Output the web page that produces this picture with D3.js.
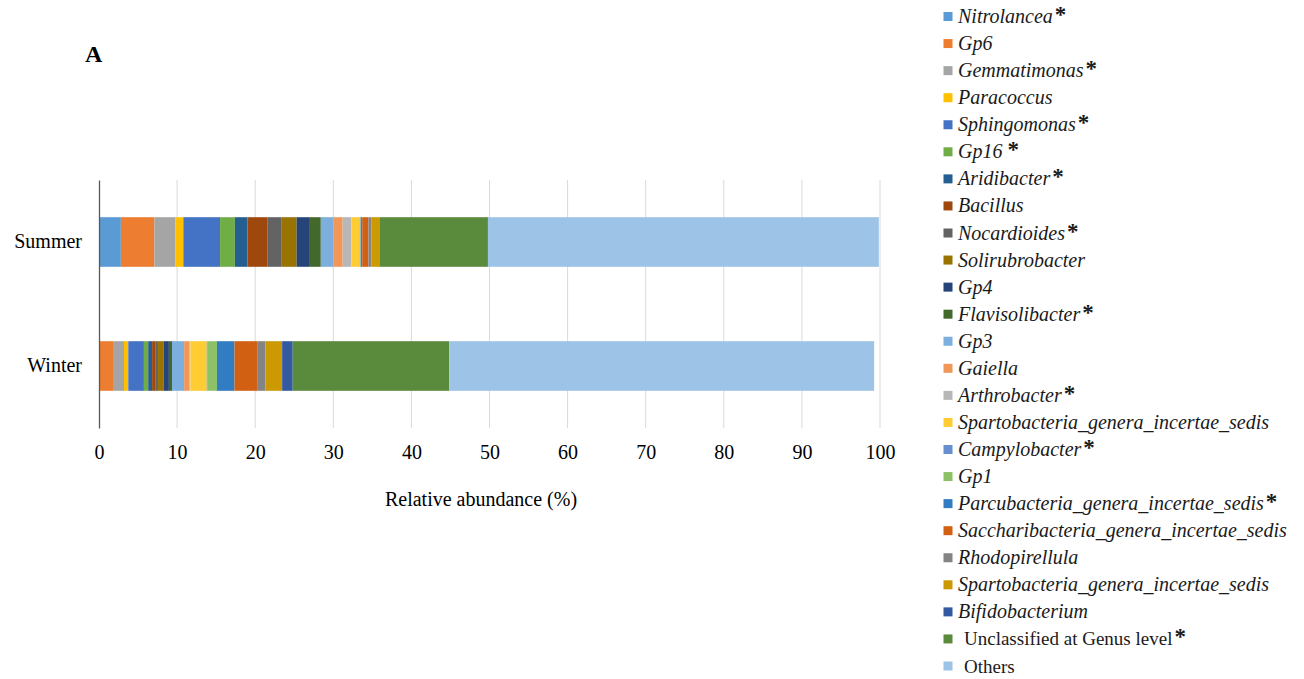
<!DOCTYPE html>
<html>
<head>
<meta charset="utf-8">
<script src="https://cdn.jsdelivr.net/npm/d3@7"></script>
<style>
  html, body { margin: 0; padding: 0; background: #fff; }
  svg { display: block; font-family: "Liberation Serif", "Times New Roman", serif; }
</style>
</head>
<body>
<svg id="chart" width="1304" height="679"></svg>
<script>
// Seasons shown as stacked horizontal bars
const seasons = ["Summer", "Winter"];

// Genera in stacking order (left to right) and legend order
const genera = [
  "Nitrolancea", "Gp6", "Gemmatimonas", "Paracoccus", "Sphingomonas", "Gp16",
  "Aridibacter", "Bacillus", "Nocardioides", "Solirubrobacter", "Gp4",
  "Flavisolibacter", "Gp3", "Gaiella", "Arthrobacter",
  "Spartobacteria_genera_incertae_sedis", "Campylobacter", "Gp1",
  "Parcubacteria_genera_incertae_sedis", "Saccharibacteria_genera_incertae_sedis",
  "Rhodopirellula", "Spartobacteria_genera_incertae_sedis", "Bifidobacterium",
  "Unclassified at Genus level", "Others"
];

// Genera marked as significantly different between seasons
const starred = [
  true, false, true, false, true, true, true, false, true, false, false,
  true, false, false, true, false, true, false, true, false, false, false,
  false, true, false
];

// Genus names set in italics (the last two rows are plain)
const italic = genera.map((g, i) => i < 23);

// Relative abundance (%) per genus
const summerValues = [
  2.8, 4.3, 2.7, 1.0, 4.7, 1.9, 1.6, 2.6, 1.8, 1.9, 1.7, 1.4, 1.6, 1.2, 1.1,
  1.1, 0.1, 0.05, 0.15, 0.8, 0.4, 1.0, 0.0, 13.9, 50.05
];
const winterValues = [
  0.05, 1.85, 1.3, 0.55, 2.0, 0.55, 0.5, 0.4, 0.35, 0.75, 0.65, 0.4, 1.55,
  0.7, 0.1, 2.1, 0.05, 1.25, 2.25, 2.9, 1.05, 2.15, 1.35, 20.05, 54.4
];

const colors = [
  "#5B9BD5", "#ED7D31", "#A5A5A5", "#FFC000", "#4472C4", "#70AD47",
  "#255E91", "#9E480E", "#636363", "#997300", "#264478", "#43682B",
  "#7CAFDD", "#F1975A", "#B7B7B7", "#FFCD33", "#698ED0", "#8CC168",
  "#327DC2", "#D26012", "#848484", "#CC9A00", "#335AA1", "#5A8A3B",
  "#9DC3E6"
];

const xTicks = [0, 10, 20, 30, 40, 50, 60, 70, 80, 90, 100];

const svg = d3.select("#chart");

const plot = { left: 99, right: 880, top: 180, bottom: 428 };

const x = d3.scaleLinear().domain([0, 100]).range([plot.left, plot.right]);
const y = d3.scaleBand()
  .domain(seasons)
  .range([plot.top, plot.bottom])
  .paddingInner(0.6)
  .paddingOuter(0.3);

const valuesBySeason = { Summer: summerValues, Winter: winterValues };

// Vertical gridlines
svg.append("g")
  .selectAll("line")
  .data(xTicks.filter(d => d > 0))
  .join("line")
  .attr("x1", d => x(d)).attr("x2", d => x(d))
  .attr("y1", plot.top).attr("y2", plot.bottom)
  .attr("stroke", "#D9D9D9")
  .attr("stroke-width", 1);

// Stacked segments
seasons.forEach(season => {
  const vals = valuesBySeason[season];
  const cum = d3.cumsum(vals);
  const segs = vals.map((v, i) => ({ start: cum[i] - v, end: cum[i], i }));
  svg.append("g")
    .selectAll("rect")
    .data(segs.filter(s => s.end > s.start))
    .join("rect")
    .attr("x", s => x(s.start))
    .attr("width", s => x(s.end) - x(s.start))
    .attr("y", y(season))
    .attr("height", y.bandwidth())
    .attr("fill", s => colors[s.i]);
});

// X axis (labels only)
const xAxis = svg.append("g")
  .attr("transform", `translate(0,${plot.bottom})`)
  .call(d3.axisBottom(x).tickValues(xTicks).tickSize(0).tickPadding(17).tickFormat(d3.format("d")));
xAxis.attr("font-family", null);
xAxis.select(".domain").remove();
xAxis.selectAll("text")
  .attr("font-size", 20)
  .attr("fill", "#000");

// Y axis with category labels
const yAxis = svg.append("g")
  .attr("transform", `translate(${plot.left},0)`)
  .call(d3.axisLeft(y).tickSize(0).tickSizeOuter(0).tickPadding(17));
yAxis.attr("font-family", null);
yAxis.select(".domain").attr("stroke", "#595959").attr("stroke-width", 1.3);
yAxis.selectAll("text")
  .attr("font-size", 20)
  .attr("fill", "#000");

// Axis title
svg.append("text")
  .attr("x", 481)
  .attr("y", 506)
  .attr("text-anchor", "middle")
  .attr("font-size", 20)
  .attr("fill", "#000")
  .text("Relative abundance (%)");

// Panel label
svg.append("text")
  .attr("x", 85)
  .attr("y", 62)
  .attr("font-size", 24)
  .attr("font-weight", "bold")
  .attr("fill", "#000")
  .text("A");

// Legend
const legendY = d3.scalePoint().domain(d3.range(genera.length)).range([16.5, 666]);
const legend = svg.append("g");
const rows = legend.selectAll("g")
  .data(genera.map((g, i) => ({ g, i })))
  .join("g")
  .attr("transform", d => `translate(0,${legendY(d.i)})`);

rows.append("rect")
  .attr("x", 943.5)
  .attr("y", -4.5)
  .attr("width", 9)
  .attr("height", 9)
  .attr("fill", d => colors[d.i]);

const labels = rows.append("text")
  .attr("x", d => italic[d.i] ? 958 : 964)
  .attr("y", 6.5)
  .attr("font-size", 20)
  .attr("fill", "#1a1a1a");

labels.append("tspan")
  .attr("font-style", d => italic[d.i] ? "italic" : "normal")
  .attr("font-size", d => italic[d.i] ? 20 : 19)
  .text(d => d.g);

labels.filter(d => starred[d.i])
  .append("tspan")
  .attr("font-style", "normal")
  .attr("font-weight", "bold")
  .attr("font-size", 23)
  .attr("dx", d => d.i === 5 ? 5 : 2)
  .attr("dy", -1)
  .text("*");
</script>
</body>
</html>
